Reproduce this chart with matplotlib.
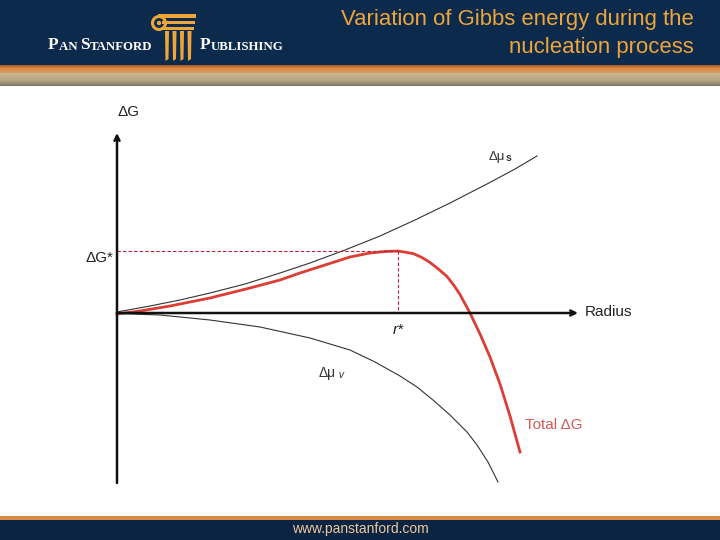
import numpy as np
import matplotlib.pyplot as plt
from matplotlib.patches import Rectangle, Circle, Polygon
from matplotlib.colors import LinearSegmentedColormap

plt.rcParams['font.family'] = ['Liberation Sans', 'DejaVu Sans']

# kurvy, snyatye s kartinki (radius, dG v uslovnyh edinicah)
mu_s_r = [0, 3.3, 6.3, 9.3, 12.8, 16.3, 19.3, 22.8, 26.3, 29.8, 33.3, 37.0, 39.8, 42.0]
mu_s_g = [0.1, 0.7, 1.3, 2.0, 2.9, 4.0, 5.0, 6.3, 7.7, 9.3, 11.0, 12.9, 14.4, 15.7]

total_r = [0, 2.3, 5.3, 9.3, 13.3, 16.3, 18.3, 20.8, 23.3, 25.3, 26.8, 28.1, 29.6,
           30.5, 31.3, 32.2, 33.0, 33.7, 34.3, 35.3, 36.3, 37.3, 38.3, 39.3, 40.3]
total_g = [-0.1, 0.2, 0.7, 1.5, 2.5, 3.3, 4.0, 4.8, 5.6, 6.0, 6.15, 6.2, 5.95,
           5.55, 5.05, 4.35, 3.65, 2.75, 1.85, 0.0, -2.1, -4.4, -7.1, -10.3, -13.9]

mu_v_r = [0, 4.3, 9.3, 14.3, 19.3, 23.3, 25.8, 28.3, 30.0, 31.6, 33.3, 35.0,
          36.0, 37.1, 38.1]
mu_v_g = [-0.05, -0.2, -0.7, -1.4, -2.5, -3.7, -4.9, -6.3, -7.4, -8.7, -10.2,
          -11.9, -13.2, -14.9, -16.9]

r_star = 28.1
g_star = 6.2

title_lines = ['Variation of Gibbs energy during the', 'nucleation process']
site = 'www.panstanford.com'

NAVY = '#0c2a4c'
GOLD = '#eea53a'
RED = '#dc3d35'


def chain_text(ax, x, y, parts, **kw):
    # tekst iz kuskov raznogo razmera (small caps, indeksy)
    s, fs, extra = parts[0]
    t = ax.text(x, y, s, fontsize=fs, va='bottom', **kw, **extra)
    for s, fs, extra in parts[1:]:
        t = ax.annotate(s, xy=(1, 0), xycoords=t, fontsize=fs,
                        ha='left', va='bottom', **kw, **extra)
    return t


fig = plt.figure(figsize=(7.2, 5.4), dpi=100)

# --- slajd: shapka, podval, logotip (v pikselyah) ---
bg = fig.add_axes([0, 0, 1, 1])
bg.set_xlim(0, 720)
bg.set_ylim(540, 0)
bg.axis('off')

bg.add_patch(Rectangle((0, 0), 720, 66, color=NAVY, lw=0))
band = LinearSegmentedColormap.from_list(
    'band', [(0, '#a85a25'), (0.15, '#e08a45'), (0.35, '#d59a60'),
             (0.4, '#cbb895'), (0.75, '#b4a482'), (1, '#7b7466')])
bg.imshow(np.linspace(0, 1, 50).reshape(-1, 1), cmap=band, aspect='auto',
          extent=(0, 720, 86, 65), zorder=1)

bg.add_patch(Rectangle((0, 516), 720, 4, color='#d88a45', lw=0))
bg.add_patch(Rectangle((0, 520), 720, 20, color='#0b2442', lw=0))
bg.text(360, 529, site, color='#ecc9a0', fontsize=10, ha='center', va='center')

for i, line in enumerate(title_lines):
    bg.text(694, 20 + 27 * i, line, color=GOLD, fontsize=15.9,
            ha='right', va='center')

# kolonna
bg.add_patch(Rectangle((158, 14), 38, 3.5, color=GOLD, lw=0))
bg.add_patch(Rectangle((162, 20.5), 33, 3.5, color=GOLD, lw=0))
bg.add_patch(Rectangle((162, 27), 32, 3, color=GOLD, lw=0))
bg.add_patch(Circle((159, 23), 6.5, fill=False, ec=GOLD, lw=2.2))
bg.add_patch(Circle((159, 23), 2.2, color=GOLD, lw=0))
for x0 in [165, 172.5, 180, 187.5]:
    bg.add_patch(Polygon([(x0, 31), (x0 + 4, 31), (x0 + 3.5, 59), (x0 + 0.5, 61)],
                         color=GOLD, lw=0))

serif = dict(color='white', family='Liberation Serif', fontweight='bold')
chain_text(bg, 48, 53, [('P', 12.5, {}), ('AN ', 9.3, {}), ('S', 12.5, {}),
                        ('TANFORD', 9.3, {})], **serif)
chain_text(bg, 200, 53, [('P', 12.5, {}), ('UBLISHING', 9.3, {})], **serif)

# --- grafik ---
ax = fig.add_axes([97 / 720, 40 / 540, 560 / 720, 410 / 540])
ax.set_xlim(-2, 54)
ax.set_ylim(-18.7, 22.3)
ax.axis('off')

arrow = dict(arrowstyle='->', color='#111111', lw=1.8,
             shrinkA=0, shrinkB=0, mutation_scale=9)
ax.annotate('', xy=(0, 18.0), xytext=(0, -17.0), arrowprops=arrow)
ax.annotate('', xy=(46.1, 0), xytext=(0, 0), arrowprops=arrow)

ax.plot(mu_s_r, mu_s_g, color='#333333', lw=0.8)
ax.plot(mu_v_r, mu_v_g, color='#333333', lw=0.8)
ax.plot(total_r, total_g, color=RED, lw=2, solid_joinstyle='round')

dash = dict(color='#b0203c', lw=0.8, dashes=(3, 2))
ax.plot([0, r_star], [g_star, g_star], **dash)
ax.plot([r_star, r_star], [g_star, 0], **dash)

lab = dict(color='#222222', fontsize=11)
ax.text(0, 20.1, 'ΔG', ha='left', va='center', **lab)
ax.text(-0.4, 5.5, 'ΔG*', ha='right', va='center', **lab)
ax.text(46.8, 0.1, 'Radius', ha='left', va='center', **lab)
ax.text(28.1, -1.7, 'r*', ha='center', va='center', style='italic', **lab)
ax.text(40.8, -11.2, 'Total ΔG', ha='left', va='center', color='#d35a55',
        fontsize=11)

chain_text(ax, 37.2, 15.0, [('Δμ', 9.5, {}), ('s', 7.5, {'fontweight': 'bold'})],
           color='#333333')
chain_text(ax, 20.2, -6.7, [('Δμ', 10, {}), (' v', 7.5, {'style': 'italic'})],
           color='#333333')

fig.savefig('out.png', dpi=100)
